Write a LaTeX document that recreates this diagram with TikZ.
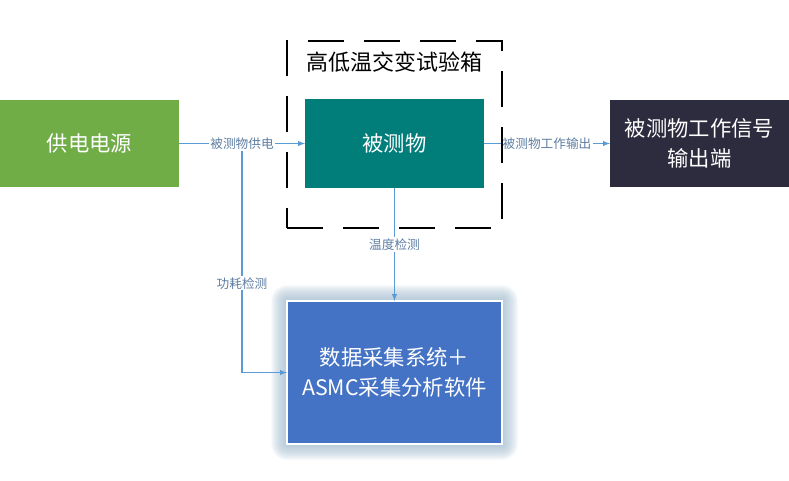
\documentclass[tikz,border=0pt]{standalone}
\usepackage{fontspec}
\setmainfont{Noto Sans CJK SC}
\usetikzlibrary{calc}
\definecolor{srcgreen}{HTML}{70AD47}
\definecolor{dutteal}{HTML}{017E7A}
\definecolor{outdark}{HTML}{2D2B3E}
\definecolor{daqblue}{HTML}{4472C4}
\definecolor{wire}{HTML}{5B9BD5}
\definecolor{labtext}{HTML}{5E7EA3}
\definecolor{glowc}{HTML}{9DB8CB}
\begin{document}
\begin{tikzpicture}[x=0.75pt,y=-0.75pt,>=latex]
\tikzstyle{block}=[inner sep=0,outer sep=0,text=white,align=center,font=\fontsize{16}{22}\selectfont]
\tikzstyle{wire}=[draw=wire,line width=0.8pt]
\tikzstyle{lab}=[fill=white,inner sep=1pt,text=labtext,font=\fontsize{9.5}{11}\selectfont]
\useasboundingbox (0,0) rectangle (789,480);
% ========= glow under the daq box
\foreach \i in {1,...,16}
  \fill[glowc,opacity=0.075,rounded corners=\i*0.75pt] (287-\i,301-\i) rectangle (502+\i,444+\i);
% ========= blocks
\node (power) at (89.5,143.5) [block, fill=srcgreen, minimum width=134.25pt, minimum height=65.25pt] {供电电源};
\node (dut) at (394.5,143.5) [block, fill=dutteal, minimum width=134.25pt, minimum height=66.75pt] {被测物};
\node (out) at (699.5,143.5) [block, fill=outdark, minimum width=134.25pt, minimum height=65.25pt] {被测物工作信号\\输出端};
\node (daq) at (394.5,372.5) [block, fill=daqblue, draw=white, line width=0.8pt, minimum width=161.25pt, minimum height=107.25pt] {数据采集系统＋\\ASMC采集分析软件};
% ====== connections
\coordinate (tap) at (242,143.5);
\draw [wire,->] (tap) |- node [lab,pos=0.305] {功耗检测} (daq.west);
\draw [wire,->] (power) -- node [lab] {被测物供电} (dut);
\draw [wire,->] (dut) -- node [lab] {温度检测} (daq);
\draw [wire,->] (dut) -- node [lab] {被测物工作输出} (out);
%% ===== chamber
\node (chamber) at (394.5,134.5) [draw=black, line width=2.2pt, dash pattern=on 27pt off 15pt, minimum width=161.25pt, minimum height=140.25pt, inner sep=0] {};
\node (title) at (394.5,62) [font=\fontsize{16.5}{20}\selectfont] {高低温交变试验箱};
\end{tikzpicture}
\end{document}
